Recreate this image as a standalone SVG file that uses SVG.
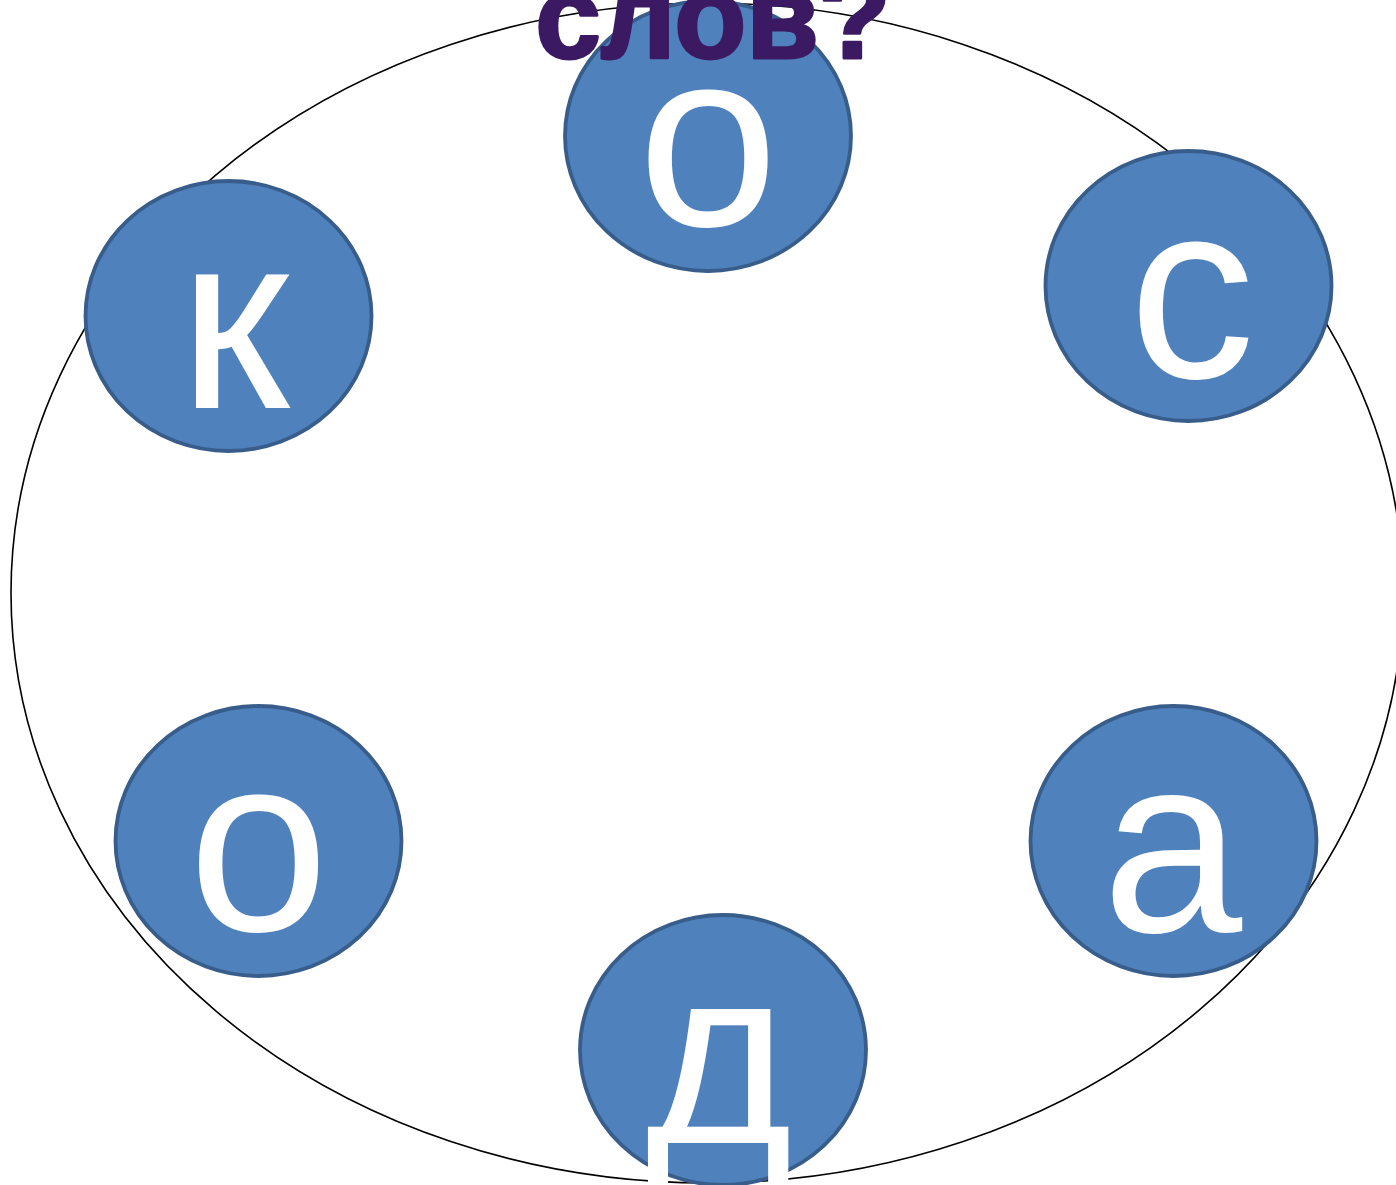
<svg xmlns="http://www.w3.org/2000/svg" width="1396" height="1185" viewBox="0 0 1396 1185">
<style>
.bg{fill:#ffffff}
.ring{fill:none;stroke:#000000;stroke-width:1.6}
.node{fill:#4f81bd;stroke:#385d8a;stroke-width:3.8}
.lt{font-family:"Liberation Sans",Arial,sans-serif;font-size:252px;fill:#ffffff;text-anchor:middle}
.title{font-family:"Liberation Sans",Arial,sans-serif;font-size:118px;font-weight:bold;fill:#3b1a63;stroke:#3b1a63;stroke-width:3;stroke-linejoin:round;text-anchor:middle}
</style>
<rect class="bg" x="0" y="0" width="1396" height="1185"/>
<g id="connectors">
<ellipse class="ring" cx="707" cy="593" rx="696" ry="590"/>
</g>
<g id="node-top">
<ellipse class="node" cx="708" cy="136" rx="143" ry="135"/>
<text class="lt" x="708" y="226">о</text>
</g>
<g id="node-right-top">
<ellipse class="node" cx="1188.5" cy="286" rx="143" ry="135"/>
<text class="lt" x="1192" y="378">с</text>
</g>
<g id="node-left-top">
<ellipse class="node" cx="228.5" cy="316" rx="143" ry="135"/>
<text class="lt" x="234" y="408">к</text>
</g>
<g id="node-left-bottom">
<ellipse class="node" cx="258.5" cy="841" rx="143" ry="135"/>
<text class="lt" x="258.5" y="931">о</text>
</g>
<g id="node-right-bottom">
<ellipse class="node" cx="1173.5" cy="841" rx="143" ry="135"/>
<text class="lt" x="1172" y="932">а</text>
</g>
<g id="node-bottom">
<ellipse class="node" cx="723" cy="1050" rx="143" ry="135"/>
<text class="lt" x="719" y="1143">д</text>
</g>
<g id="title">
<text class="title" x="713" y="58">слов?</text>
</g>
</svg>
